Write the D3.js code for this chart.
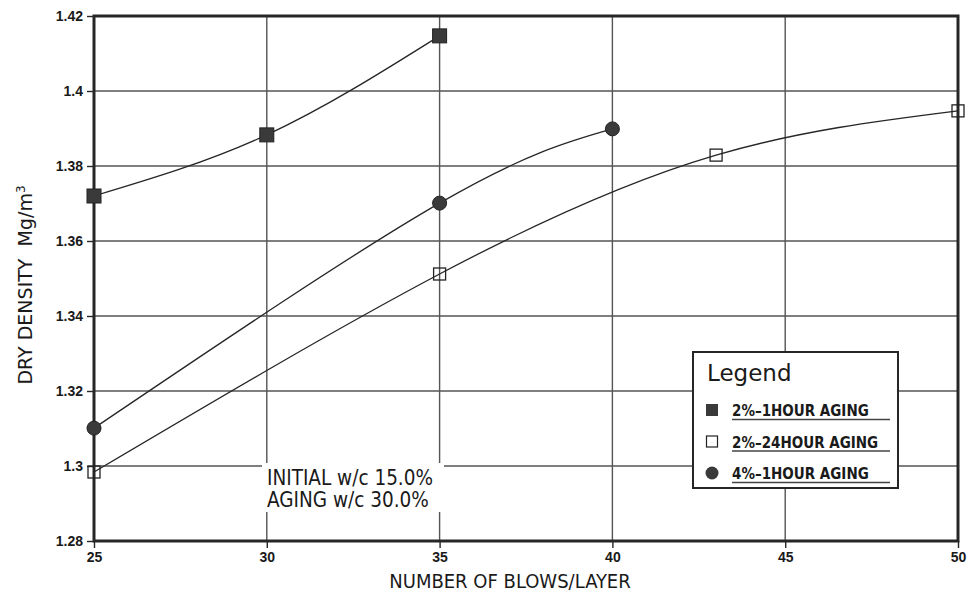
<!DOCTYPE html>
<html>
<head>
<meta charset="utf-8">
<script src="https://cdn.jsdelivr.net/npm/d3@7/dist/d3.min.js"></script>
<style>
  html, body { margin: 0; padding: 0; background: #fff; }
  svg { display: block; }
  text { font-family: "DejaVu Sans Condensed", "DejaVu Sans", sans-serif; fill: #1a1a1a; }
</style>
</head>
<body>
<svg id="chart" width="967" height="595"></svg>
<script>
// Blows per layer (x) and dry density (Mg/m³) for each mix
const blows1h2 = [25, 30, 35];
const dens1h2 = [1.372, 1.3883, 1.4147];

const blows24h2 = [25, 35, 43, 50];
const dens24h2 = [1.2984, 1.3512, 1.3829, 1.3947];

const blows1h4 = [25, 35, 40];
const dens1h4 = [1.3101, 1.3701, 1.3899];

const xTicks = [25, 30, 35, 40, 45, 50];
const yTicks = [1.28, 1.3, 1.32, 1.34, 1.36, 1.38, 1.4, 1.42];
const yTickLabels = ["1.28", "1.3", "1.32", "1.34", "1.36", "1.38", "1.4", "1.42"];

const legendLabels = ["2%\u20131HOUR AGING", "2%\u201324HOUR AGING", "4%\u20131HOUR AGING"];
const noteLines = ["INITIAL w/c 15.0%", "AGING w/c 30.0%"];

const svg = d3.select("#chart");
const margin = { left: 94, right: 9, top: 16, bottom: 54 };
const W = 967, H = 595;

const x = d3.scaleLinear().domain([25, 50]).range([margin.left, W - margin.right]);
const y = d3.scaleLinear().domain([1.28, 1.42]).range([H - margin.bottom, margin.top]);

const ink = "#262626";

// grid
const grid = svg.append("g");
grid.selectAll("line.gx").data(xTicks).join("line")
  .attr("x1", d => x(d)).attr("x2", d => x(d))
  .attr("y1", y(1.42)).attr("y2", y(1.28))
  .attr("stroke", "#555").attr("stroke-width", 1.4);
grid.selectAll("line.gy").data(yTicks).join("line")
  .attr("y1", d => y(d)).attr("y2", d => y(d))
  .attr("x1", x(25)).attr("x2", x(50))
  .attr("stroke", "#555").attr("stroke-width", 1.4);

// annotation background knocks out the grid behind the note
svg.append("rect")
  .attr("x", 262).attr("y", 463).attr("width", 182).attr("height", 49)
  .attr("fill", "#fff");

// axes
const xAxis = d3.axisBottom(x).tickValues(xTicks).tickSize(7).tickPadding(4)
  .tickFormat(d3.format("d"));
const gx = svg.append("g").attr("transform", `translate(0,${y(1.28)})`).call(xAxis);
gx.select(".domain").remove();
gx.selectAll("line").attr("stroke", ink).attr("stroke-width", 1.4);
gx.selectAll("text").attr("font-size", 14).attr("font-weight", "bold").attr("fill", ink)
  .style("font-family", "'Liberation Sans', Arial, sans-serif");

const yAxis = d3.axisLeft(y).tickValues(yTicks).tickSize(7).tickPadding(4)
  .tickFormat((d, i) => yTickLabels[i]);
const gy = svg.append("g").attr("transform", `translate(${x(25)},0)`).call(yAxis);
gy.select(".domain").remove();
gy.selectAll("line").attr("stroke", ink).attr("stroke-width", 1.4);
gy.selectAll("text").attr("font-size", 14).attr("font-weight", "bold").attr("fill", ink)
  .style("font-family", "'Liberation Sans', Arial, sans-serif");

// heavy frame
svg.append("rect")
  .attr("x", x(25)).attr("y", y(1.42))
  .attr("width", x(50) - x(25)).attr("height", y(1.28) - y(1.42))
  .attr("fill", "none").attr("stroke", ink).attr("stroke-width", 3);

// curves
const line = d3.line().x(d => x(d[0])).y(d => y(d[1])).curve(d3.curveNatural);
const series = [
  { xs: blows1h2, ys: dens1h2, mark: "fsq" },
  { xs: blows24h2, ys: dens24h2, mark: "osq" },
  { xs: blows1h4, ys: dens1h4, mark: "dot" }
];
series.forEach(s => {
  const pts = s.xs.map((v, i) => [v, s.ys[i]]);
  svg.append("path").datum(pts).attr("d", line)
    .attr("fill", "none").attr("stroke", ink).attr("stroke-width", 1.3);
});

function drawMark(g, kind, cx, cy) {
  if (kind === "fsq") {
    g.append("rect").attr("x", cx - 7).attr("y", cy - 7).attr("width", 14).attr("height", 14)
      .attr("fill", "#3a3a3a").attr("stroke", "#222").attr("stroke-width", 1);
  } else if (kind === "osq") {
    g.append("rect").attr("x", cx - 6).attr("y", cy - 6).attr("width", 12).attr("height", 12)
      .attr("fill", "none").attr("stroke", "#222").attr("stroke-width", 1.3);
  } else {
    g.append("circle").attr("cx", cx).attr("cy", cy).attr("r", 7)
      .attr("fill", "#3a3a3a").attr("stroke", "#222").attr("stroke-width", 1);
  }
}
const marks = svg.append("g");
series.forEach(s => {
  s.xs.forEach((v, i) => drawMark(marks, s.mark, x(v), y(s.ys[i])));
});

// note
const note = svg.append("text").attr("font-size", 20.5);
noteLines.forEach((t, i) => {
  note.append("tspan").attr("x", 267).attr("y", 485 + i * 22).text(t);
});

// legend
const lg = svg.append("g");
lg.append("rect").attr("x", 693).attr("y", 352).attr("width", 205).attr("height", 136)
  .attr("fill", "#fff").attr("stroke", ink).attr("stroke-width", 2);
lg.append("text").attr("x", 707).attr("y", 381).attr("font-size", 23)
  .style("font-family", "'DejaVu Sans', sans-serif").text("Legend");
["fsq", "osq", "dot"].forEach((k, i) => {
  const cy = 410 + i * 31.5;
  if (k === "fsq") {
    lg.append("rect").attr("x", 706).attr("y", cy - 6).attr("width", 12).attr("height", 12)
      .attr("fill", "#3a3a3a");
  } else if (k === "osq") {
    lg.append("rect").attr("x", 706.5).attr("y", cy - 5.5).attr("width", 11).attr("height", 11)
      .attr("fill", "none").attr("stroke", "#222").attr("stroke-width", 1.2);
  } else {
    lg.append("circle").attr("cx", 712).attr("cy", cy).attr("r", 6.5).attr("fill", "#3a3a3a");
  }
  lg.append("text").attr("x", 732).attr("y", cy + 6).attr("font-size", 15)
    .attr("font-weight", "bold").text(legendLabels[i]);
  lg.append("line").attr("x1", 732).attr("x2", 890).attr("y1", cy + 9.5).attr("y2", cy + 9.5)
    .attr("stroke", "#444").attr("stroke-width", 1.6);
});

// axis titles
svg.append("text").attr("x", 510).attr("y", 588).attr("text-anchor", "middle")
  .attr("font-size", 20).text("NUMBER OF BLOWS/LAYER");
const yTitle = svg.append("text").attr("transform", "translate(32,285) rotate(-90)")
  .attr("text-anchor", "middle").attr("font-size", 19)
  .style("font-family", "'DejaVu Sans', sans-serif");
yTitle.append("tspan").text("DRY DENSITY\u00a0\u00a0Mg/m");
yTitle.append("tspan").attr("dy", -7).attr("font-size", 12).text("3");
</script>
</body>
</html>
